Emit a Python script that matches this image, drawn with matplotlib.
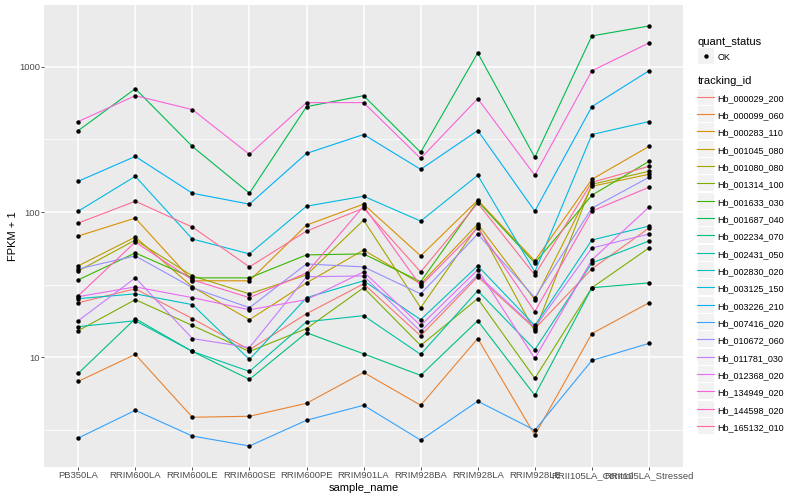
import matplotlib
matplotlib.use('Agg')
import matplotlib.pyplot as plt
from matplotlib.lines import Line2D
from matplotlib.patches import Rectangle
from matplotlib.legend_handler import HandlerLine2D
from matplotlib.ticker import NullFormatter
import numpy as np

plt.rcParams['font.family'] = ['Liberation Sans', 'DejaVu Sans']

# x categories
samples = ['PB350LA', 'RRIM600LA', 'RRIM600LE', 'RRIM600SE', 'RRIM600PE',
           'RRIM901LA', 'RRIM928BA', 'RRIM928LA', 'RRIM928LE',
           'RRII105LA_Control', 'RRII105LA_Stressed']

# FPKM + 1 per gene, same order as samples
hb_000029_200 = [23.8, 29.7, 18.5, 11.3, 20.0, 32.1, 14.1, 35.9, 15.8, 40.7, 77.7]
hb_000099_060 = [6.85, 10.5, 3.88, 3.94, 4.84, 7.89, 4.69, 13.5, 2.92, 14.6, 23.8]
hb_000283_110 = [68.5, 91.0, 33.7, 33.7, 81.5, 113.5, 50.0, 120.8, 46.2, 168.3, 283.2]
hb_001045_080 = [42.7, 67.4, 30.6, 18.2, 32.6, 54.9, 32.1, 82.8, 25.0, 150.7, 182.1]
hb_001080_080 = [39.4, 64.3, 36.4, 27.4, 37.0, 88.1, 22.0, 80.2, 15.1, 155.5, 190.9]
hb_001314_100 = [15.3, 25.0, 16.6, 11.0, 15.8, 30.2, 12.1, 25.4, 7.18, 30.2, 56.7]
hb_001633_030 = [34.2, 52.4, 35.3, 35.3, 50.8, 51.6, 33.2, 118.9, 44.7, 130.8, 223.5]
hb_001687_040 = [364, 707, 283, 135, 532, 633, 258, 1247, 238, 1631, 1909]
hb_002234_070 = [7.77, 18.5, 11.0, 7.07, 14.8, 10.6, 7.53, 17.9, 5.49, 30.2, 32.6]
hb_002431_050 = [16.3, 17.9, 11.0, 8.02, 17.6, 19.4, 10.5, 28.8, 11.3, 44.7, 63.3]
hb_002830_020 = [25.4, 27.4, 23.1, 9.69, 25.8, 33.7, 18.2, 42.7, 16.6, 64.3, 80.2]
hb_003125_150 = [101.6, 176.4, 65.3, 51.6, 109.9, 128.7, 86.8, 179.3, 38.8, 342.1, 420]
hb_003226_210 = [163.1, 241.8, 134.9, 113.5, 253.6, 342.1, 197.0, 364.4, 101.6, 532, 939]
hb_007416_020 = [2.79, 4.33, 2.88, 2.46, 3.70, 4.69, 2.70, 5.00, 3.16, 9.54, 12.5]
hb_010672_060 = [40.7, 50.0, 30.2, 22.0, 44.0, 42.0, 27.4, 70.7, 25.8, 106.5, 173.7]
hb_011781_030 = [17.9, 35.3, 13.5, 11.7, 35.9, 36.4, 15.1, 37.0, 16.1, 56.7, 70.7]
hb_012368_020 = [26.2, 30.6, 25.8, 21.3, 25.0, 38.8, 16.6, 40.1, 9.84, 46.9, 108.2]
hb_134949_020 = [420, 633, 507.5, 249.6, 567, 567, 234.3, 604, 179.3, 939, 1460]
hb_144598_020 = [26.6, 62.3, 34.2, 25.8, 38.2, 109.9, 31.1, 77.7, 20.7, 101.6, 148.3]
hb_165132_010 = [84.1, 118.9, 78.9, 42.0, 74.1, 106.5, 38.8, 115.3, 37.0, 160.5, 206.5]

tracking_ids = ['Hb_000029_200', 'Hb_000099_060', 'Hb_000283_110', 'Hb_001045_080',
                'Hb_001080_080', 'Hb_001314_100', 'Hb_001633_030', 'Hb_001687_040',
                'Hb_002234_070', 'Hb_002431_050', 'Hb_002830_020', 'Hb_003125_150',
                'Hb_003226_210', 'Hb_007416_020', 'Hb_010672_060', 'Hb_011781_030',
                'Hb_012368_020', 'Hb_134949_020', 'Hb_144598_020', 'Hb_165132_010']
series = [hb_000029_200, hb_000099_060, hb_000283_110, hb_001045_080,
          hb_001080_080, hb_001314_100, hb_001633_030, hb_001687_040,
          hb_002234_070, hb_002431_050, hb_002830_020, hb_003125_150,
          hb_003226_210, hb_007416_020, hb_010672_060, hb_011781_030,
          hb_012368_020, hb_134949_020, hb_144598_020, hb_165132_010]

# ggplot default hue palette for 20 levels
colors = ['#F8766D', '#EA8331', '#D89000', '#C09B00', '#A3A500', '#7CAE00',
          '#39B600', '#00BB4E', '#00BF7D', '#00C1A3', '#00BFC4', '#00BAE0',
          '#00B0F6', '#35A2FF', '#9590FF', '#C77CFF', '#E76BF3', '#FA62DB',
          '#FF62BC', '#FF6C91']


class KeyHandler(HandlerLine2D):
    # grey ggplot-like key box behind each legend glyph
    def create_artists(self, legend, orig_handle, xdescent, ydescent,
                       width, height, fontsize, trans):
        arts = super().create_artists(legend, orig_handle, xdescent, ydescent,
                                      width, height, fontsize, trans)
        cy = (height - ydescent) / 2
        box = Rectangle((-xdescent + 0.4, cy - 5.8), width - 0.8, 11.6,
                        facecolor='#F2F2F2', edgecolor='none', transform=trans)
        return [box] + arts


fig = plt.figure(figsize=(8, 5), dpi=100)
ax = fig.add_axes([0.055, 0.066, 0.799, 0.924])
ax.set_facecolor('#EBEBEB')
for s in ax.spines.values():
    s.set_visible(False)

x = np.arange(len(samples))
for vals, c in zip(series, colors):
    ax.plot(x, vals, color=c, lw=0.8, zorder=2)
for vals in series:
    ax.plot(x, vals, 'o', color='black', ms=3.2, mec='none', zorder=3)

ax.set_yscale('log')
ax.set_yticks([10, 100, 1000], labels=['10', '100', '1000'])
ax.set_yticks(10 ** np.array([0.5, 1.5, 2.5, 3.5]), minor=True)
ax.yaxis.set_minor_formatter(NullFormatter())
ax.set_xticks(x, labels=samples)

# limits after the ticks, so the minor ticks do not stretch them
allv = np.log10(np.concatenate([np.array(v, dtype=float) for v in series]))
lo, hi = allv.min(), allv.max()
pad = 0.05 * (hi - lo)
ax.set_ylim(10 ** (lo - pad), 10 ** (hi + pad))
ax.set_xlim(-0.6, len(samples) - 0.4)

ax.grid(which='major', color='white', lw=1.1)
ax.grid(which='minor', axis='y', color='white', lw=0.55)
ax.set_axisbelow(True)
ax.tick_params(which='major', length=2.0, width=0.6, color='#333333',
               labelsize=6.8, labelcolor='#4D4D4D', pad=0.8)
ax.tick_params(which='minor', length=0)

ax.set_xlabel('sample_name', fontsize=8, labelpad=2)
ax.set_ylabel('FPKM + 1', fontsize=8, labelpad=1)

# legends
ok_handle = [Line2D([], [], marker='o', ls='none', color='black', ms=3.2, mec='none')]
leg1 = fig.legend(ok_handle, ['OK'], title='quant_status', loc='upper left',
                  bbox_to_anchor=(0.866, 0.935), frameon=False, fontsize=6.5,
                  title_fontsize=8, handlelength=1.9, handleheight=1.5,
                  handletextpad=0.35, borderpad=0, alignment='left',
                  handler_map={Line2D: KeyHandler(numpoints=1)})
line_handles = [Line2D([], [], color=c, lw=0.8) for c in colors]
leg2 = fig.legend(line_handles, tracking_ids, title='tracking_id', loc='upper left',
                  bbox_to_anchor=(0.866, 0.857), frameon=False, fontsize=6.5,
                  title_fontsize=8, handlelength=1.9, handleheight=1.5,
                  handletextpad=0.35, borderpad=0, labelspacing=0.7,
                  alignment='left', handler_map={Line2D: KeyHandler()})

fig.savefig('out.png', dpi=100)
